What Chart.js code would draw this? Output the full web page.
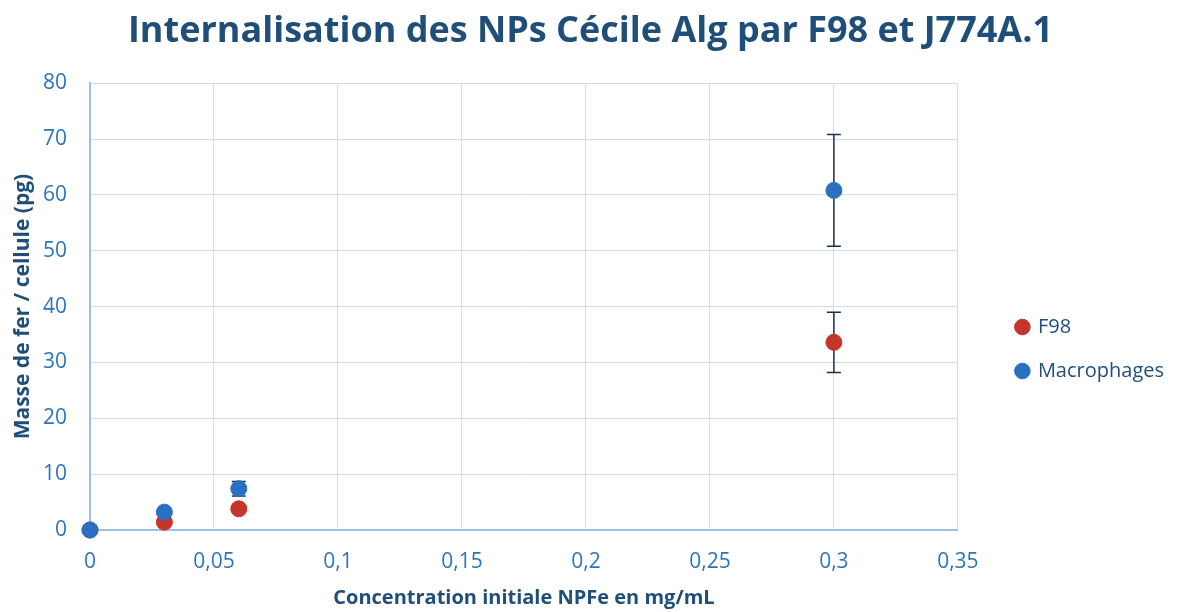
<!DOCTYPE html>
<html>
<head>
<meta charset="utf-8">
<script src="https://cdn.jsdelivr.net/npm/chart.js@4.4.0/dist/chart.umd.min.js"></script>
<style>
  html, body { margin: 0; padding: 0; background: #fff; }
  #wrap { width: 1177px; height: 612px; }
</style>
</head>
<body>
<div id="wrap"><canvas id="chart"></canvas></div>
<script>
// Iron mass per cell vs initial NP concentration, two cell lines
const concentrations = [0, 0.03, 0.06, 0.3];
const f98Values = [0, 1.4, 3.8, 33.6];
const f98Errors = [0, 0.4, 0.5, 5.4];
const macroValues = [0, 3.2, 7.4, 60.8];
const macroErrors = [0, 0.4, 1.3, 10.0];
const xTicks = [0, 0.05, 0.1, 0.15, 0.2, 0.25, 0.3, 0.35];

const FONT = '"Open Sans", sans-serif';
const DARK = '#1f4e79';
const TICK = '#2e75b6';
const GRID = '#cadff2';

function toPoints(xs, ys, errs) {
  return xs.map((x, i) => ({ x, y: ys[i], err: errs[i] }));
}

// vertical error bars with caps, painted under the markers
const errorBars = {
  id: 'errorBars',
  beforeDatasetsDraw(chart) {
    const { ctx, scales: { x, y } } = chart;
    ctx.save();
    ctx.strokeStyle = '#1f2f4f';
    ctx.lineWidth = 1.5;
    chart.data.datasets.forEach((ds, di) => {
      if (!chart.isDatasetVisible(di)) return;
      ds.data.forEach(p => {
        if (!p.err) return;
        const px = x.getPixelForValue(p.x);
        const top = y.getPixelForValue(p.y + p.err);
        const bot = y.getPixelForValue(p.y - p.err);
        ctx.beginPath();
        ctx.moveTo(px, top); ctx.lineTo(px, bot);
        ctx.moveTo(px - 7, top); ctx.lineTo(px + 7, top);
        ctx.moveTo(px - 7, bot); ctx.lineTo(px + 7, bot);
        ctx.stroke();
      });
    });
    ctx.restore();
  }
};

// widen the right-hand legend column and nudge its items
const legendSpace = {
  id: 'legendSpace',
  beforeInit(chart) {
    const fit = chart.legend.fit;
    chart.legend.fit = function() {
      fit.call(this);
      this.width += 32;
    };
  },
  afterLayout(chart) {
    const lg = chart.legend;
    lg.left += 35;
    lg.top += 42;
    lg.bottom += 42;
  }
};

new Chart(document.getElementById('chart'), {
  type: 'scatter',
  data: {
    datasets: [
      {
        label: 'F98',
        data: toPoints(concentrations, f98Values, f98Errors),
        backgroundColor: '#c4352b',
        borderColor: '#c4352b',
        pointRadius: 8,
        pointHoverRadius: 8,
        clip: false,
        order: 1
      },
      {
        label: 'Macrophages',
        data: toPoints(concentrations, macroValues, macroErrors),
        backgroundColor: '#2a70c2',
        borderColor: '#2a70c2',
        pointRadius: 8,
        pointHoverRadius: 8,
        clip: false,
        order: 0
      }
    ]
  },
  options: {
    responsive: true,
    maintainAspectRatio: false,
    animation: false,
    layout: { padding: { left: 10, right: 6, top: 4, bottom: 2 } },
    plugins: {
      title: {
        display: true,
        text: 'Internalisation des NPs Cécile Alg par F98 et J774A.1',
        color: DARK,
        font: { family: FONT, size: 36, weight: 'bold' },
        padding: { top: 6, bottom: 30 }
      },
      legend: {
        position: 'right',
        labels: {
          usePointStyle: true,
          pointStyle: 'circle',
          boxWidth: 11,
          boxHeight: 11,
          padding: 24,
          color: DARK,
          font: { family: FONT, size: 20 },
          sort: (a, b) => a.datasetIndex - b.datasetIndex
        }
      },
      tooltip: { enabled: false }
    },
    scales: {
      x: {
        type: 'linear',
        min: 0,
        max: 0.35,
        afterBuildTicks: axis => { axis.ticks = xTicks.map(v => ({ value: v })); },
        afterFit: scale => { scale.height = 80; },
        ticks: {
          color: TICK,
          font: { family: FONT, size: 21 },
          padding: 19,
          callback: v => String(Math.round(v * 100) / 100).replace('.', ',')
        },
        grid: { color: GRID, drawTicks: false },
        border: { color: '#9cc2e5', width: 2 },
        title: {
          display: true,
          text: 'Concentration initiale NPFe en mg/mL',
          color: DARK,
          font: { family: FONT, size: 20, weight: 'bold' },
          padding: { top: 0, bottom: 0 }
        }
      },
      y: {
        min: 0,
        max: 80,
        afterFit: scale => { scale.width = 80; },
        ticks: {
          stepSize: 10,
          color: TICK,
          font: { family: FONT, size: 21 },
          padding: 23
        },
        grid: { color: GRID, drawTicks: false },
        border: { color: '#9cc2e5', width: 2 },
        title: {
          display: true,
          text: 'Masse de fer / cellule (pg)',
          color: DARK,
          font: { family: FONT, size: 21, weight: 'bold' },
          padding: { top: 0, bottom: 0 }
        }
      }
    }
  },
  plugins: [errorBars, legendSpace]
});
</script>
</body>
</html>
